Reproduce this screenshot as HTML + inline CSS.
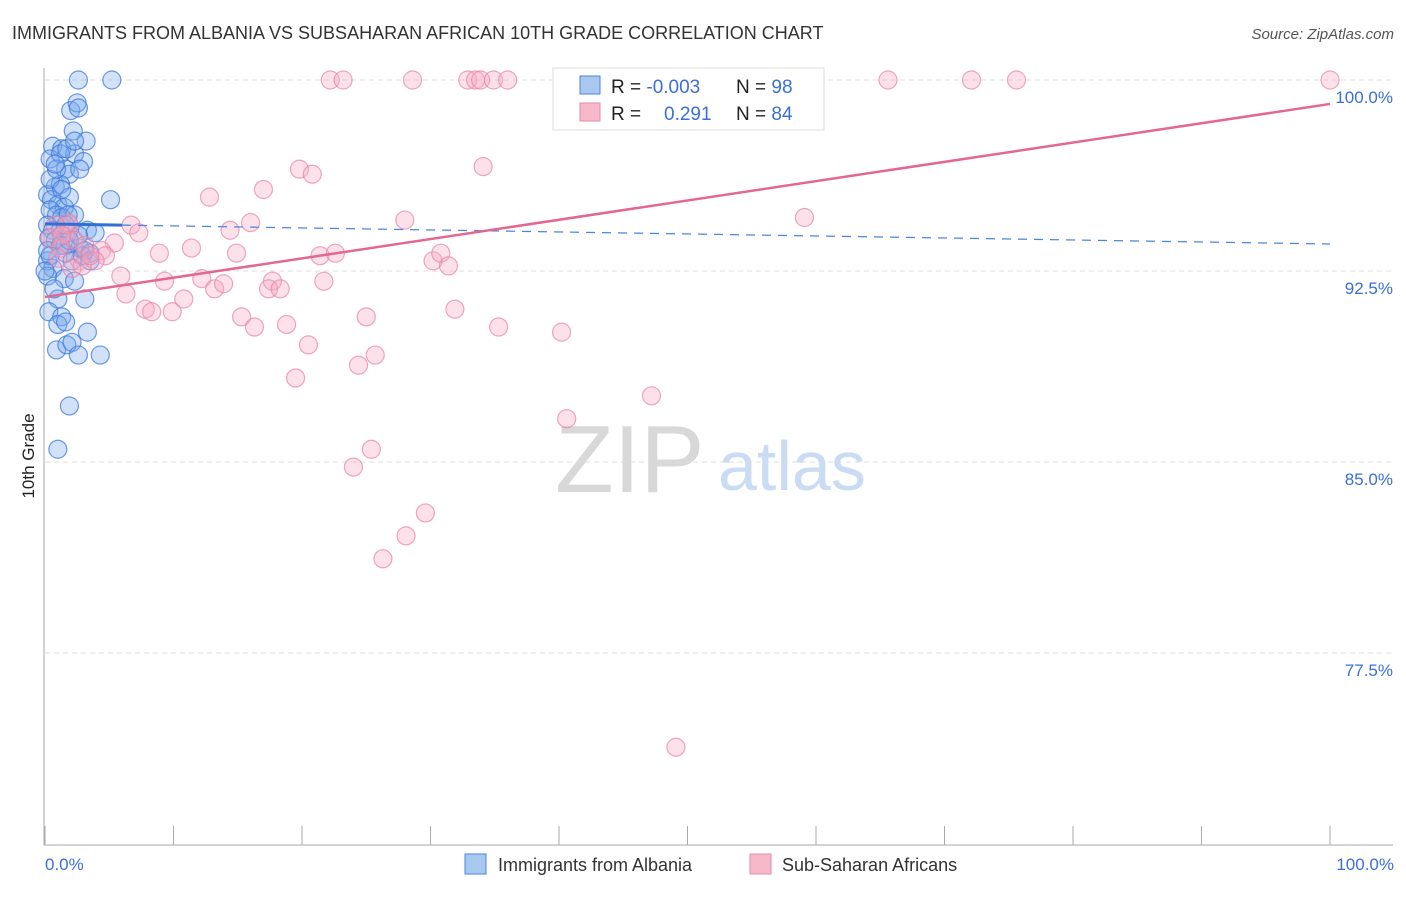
<!DOCTYPE html>
<html><head><meta charset="utf-8"><style>
body{margin:0;background:#fff;font-family:"Liberation Sans",sans-serif}
svg text{font-family:"Liberation Sans",sans-serif}
</style></head><body>
<svg id="c" width="1406" height="892">
<text x="12" y="39" font-size="18" fill="#333">IMMIGRANTS FROM ALBANIA VS SUBSAHARAN AFRICAN 10TH GRADE CORRELATION CHART</text>
<text x="1394" y="39" font-size="15" fill="#555" font-style="italic" text-anchor="end">Source: ZipAtlas.com</text>
<text x="555" y="492" font-size="96" fill="#d8d8d8" font-family="Liberation Serif">ZIP</text>
<text x="718" y="490" font-size="70" fill="#c9dcf3">atlas</text>
<g id="grid"></g><g id="axes"></g><g id="pts"></g><g id="lines"></g>
<text transform="translate(34,456) rotate(-90)" font-size="17" fill="#222" text-anchor="middle">10th Grade</text>
<text x="45" y="870" font-size="17" fill="#3a6fd8">0.0%</text>
<text x="1394" y="870" font-size="17" fill="#3a6fd8" text-anchor="end">100.0%</text>
<g>
<rect x="553" y="68" width="271" height="62" fill="#fff" stroke="#ddd"/>
<rect x="580" y="76" width="20" height="18" fill="#a8c8f0" stroke="#4a86e0"/>
<rect x="580" y="103" width="20" height="18" fill="#f7b8cc" stroke="#e88aa8"/>
<text x="611" y="93" font-size="19" fill="#222">R = <tspan fill="#3a6fd8">-0.003</tspan></text>
<text x="736" y="93" font-size="19" fill="#222">N = <tspan fill="#3a6fd8">98</tspan></text>
<text x="611" y="120" font-size="19" fill="#222">R = <tspan fill="#3a6fd8" x="664">0.291</tspan></text>
<text x="736" y="120" font-size="19" fill="#222">N = <tspan fill="#3a6fd8">84</tspan></text>
</g>
<g>
<rect x="465" y="854" width="21" height="20" fill="#a8c8f0" stroke="#4a86e0"/>
<text x="498" y="871" font-size="18" fill="#333">Immigrants from Albania</text>
<rect x="750" y="854" width="21" height="20" fill="#f7b8cc" stroke="#e88aa8"/>
<text x="782" y="871" font-size="18" fill="#333">Sub-Saharan Africans</text>
</g>
</svg>
<script>
const yTicks=[100,92.5,85,77.5];
const yTickLabels=["100.0%","92.5%","85.0%","77.5%"];
const xTicks=[0,10,20,30,40,50,60,70,80,90,100];
const blueX=[2.6,5.2,2.0,2.5,2.6,2.2,3.2,0.6,1.3,2.3,3.0,0.4,1.2,1.6,1.9,0.8,1.2,0.2,0.5,1.0,1.5,1.9,5.1,0.4,0.9,1.3,2.3,0.2,0.6,1.2,1.8,3.3,0.3,0.8,1.6,2.7,3.5,0.2,0.6,1.6,2.1,2.9,0.2,1.5,2.3,1.0,3.1,0.3,1.3,1.0,1.6,3.3,0.9,1.7,2.1,2.6,4.3,1.9,1.0,0.7,0.2,0.4,0.9,1.7,2.3,1.3,1.8,3.9,2.6,1.2,0.4,0.0,1.6,1.9,0.8,2.7,3.1,3.5];
const blueY=[100,100,98.8,99.1,98.9,98.0,97.6,97.4,97.3,97.1,96.8,96.9,97.1,96.5,96.3,95.8,95.9,95.5,95.3,95.1,95.0,95.4,95.3,94.9,94.7,94.6,94.7,94.3,94.1,94.1,94.0,94.1,93.8,93.7,93.5,93.4,93.2,92.9,92.6,93.2,92.9,93.1,92.3,92.2,92.1,91.4,91.4,90.9,90.7,90.4,90.5,90.1,89.4,89.6,89.7,89.2,89.2,87.2,85.5,91.8,93.3,96.1,96.5,97.3,97.6,95.7,94.7,94.0,93.9,93.5,93.1,92.5,94.3,93.7,96.7,96.5,93.3,92.9];
const pinkX=[6.7,7.3,8.9,5.4,4.4,4.7,3.9,2.7,5.9,6.3,7.8,8.3,9.3,9.9,10.8,11.4,12.2,12.8,13.2,13.9,14.4,14.9,15.3,16.0,16.3,17.0,17.7,17.4,18.3,18.8,19.5,19.8,20.8,20.5,21.4,21.7,22.6,22.2,23.2,24.0,24.4,25.0,25.4,25.7,26.3,28.1,29.6,28.0,28.6,30.2,30.8,31.4,31.9,32.9,33.5,33.9,34.1,34.9,35.3,36.0,40.2,40.6,41.8,47.2,49.1,52.4,59.1,65.6,72.1,75.6,100,0.4,1.2,1.6,1.9,2.3,2.9,1.0,1.8,3.1,3.5,0.8,2.1,1.3];
const pinkY=[94.3,94.0,93.2,93.6,93.3,93.1,92.9,92.9,92.3,91.6,91.0,90.9,92.1,90.9,91.4,93.4,92.2,95.4,91.8,92.0,94.1,93.2,90.7,94.4,90.3,95.7,92.1,91.8,91.8,90.4,88.3,96.5,96.3,89.6,93.1,92.1,93.2,100,100,84.8,88.8,90.7,85.5,89.2,81.2,82.1,83.0,94.5,100,92.9,93.2,92.7,91.0,100,100,100,96.6,100,90.3,100,90.1,86.7,100,87.6,73.8,100,94.6,100,100,100,100,93.8,93.4,94.0,94.3,93.7,92.7,93.0,94.4,93.5,93.1,94.3,92.6,93.9];
const blueTrend=[94.35,93.56];
const pinkTrend=[91.48,99.06];
const NS="http://www.w3.org/2000/svg";
const X=v=>45+v*12.85, Y=v=>80+(100-v)*25.467;
function mk(t,a,p){const e=document.createElementNS(NS,t);for(const k in a)e.setAttribute(k,a[k]);document.getElementById(p).appendChild(e);return e;}
yTicks.forEach((t,i)=>{
 const l=mk('line',{x1:45,x2:1393,y1:Y(t),y2:Y(t),stroke:'#ddd','stroke-dasharray':'5,4'},'grid');
 
 
 const tx=mk('text',{x:1393,y:Y(t)+23,'font-size':17,fill:'#3a6fd8','text-anchor':'end'},'grid');
 tx.textContent=yTickLabels[i];
 
 
});
const ax=mk('line',{x1:44,x2:44,y1:68,y2:845,stroke:'#aaa'},'axes');


const bx=mk('line',{x1:44,x2:1393,y1:845,y2:845,stroke:'#aaa'},'axes');


xTicks.forEach(t=>{
 const l=mk('line',{x1:X(t),x2:X(t),y1:826,y2:845,stroke:'#aaa'},'axes');
 
 
});
blueX.forEach((x,i)=>{
 const c=mk('circle',{cx:X(x),cy:Y(blueY[i]),r:9,fill:'rgba(120,170,235,0.35)',stroke:'rgba(60,120,220,0.75)','stroke-width':1.2},'pts');
 
 
});
pinkX.forEach((x,i)=>{
 const c=mk('circle',{cx:X(x),cy:Y(pinkY[i]),r:9,fill:'rgba(245,170,195,0.35)',stroke:'rgba(230,130,165,0.7)','stroke-width':1.2},'pts');
 
 
});
const bs=(blueTrend[1]-blueTrend[0])/100;
const b1=mk('line',{x1:X(0),y1:Y(blueTrend[0]),x2:X(6),y2:Y(blueTrend[0]+bs*6),stroke:'#2f6fd6','stroke-width':3},'lines');


const b2=mk('line',{x1:X(6),y1:Y(blueTrend[0]+bs*6),x2:X(100),y2:Y(blueTrend[1]),stroke:'#4a86e0','stroke-width':1.3,'stroke-dasharray':'9,7'},'lines');


const p1=mk('line',{x1:X(0),y1:Y(pinkTrend[0]),x2:X(100),y2:Y(pinkTrend[1]),stroke:'#e4678f','stroke-width':2.5},'lines');


</script>
</body></html>
